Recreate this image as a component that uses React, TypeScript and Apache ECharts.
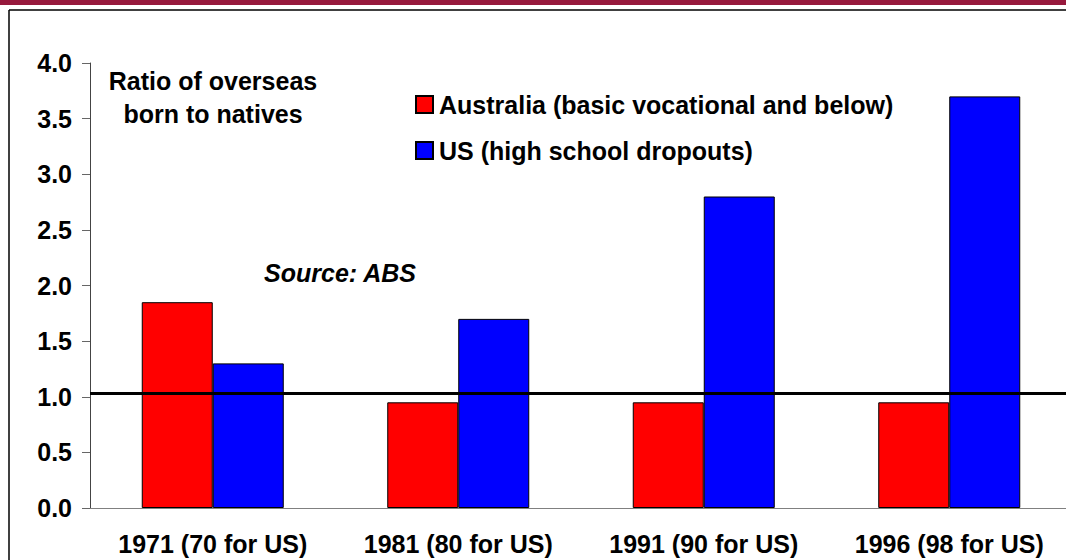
import React, { useEffect, useRef } from "react";
import * as echarts from "echarts";

const categories = ["1971 (70 for US)", "1981 (80 for US)", "1991 (90 for US)", "1996 (98 for US)"];
const australia = [1.85, 0.95, 0.95, 0.95];
const us = [1.3, 1.7, 2.8, 3.7];
const seriesNames = ["Australia (basic vocational and below)", "US (high school dropouts)"];
const referenceLevel = 1.03;

const FONT = "'Liberation Sans', Arial, sans-serif";

export default function App() {
  const ref = useRef<HTMLDivElement>(null);
  useEffect(() => {
    if (!ref.current) return;
    const chart = echarts.init(ref.current, null, { renderer: "svg" });
    chart.setOption({
      animation: false,
      backgroundColor: "#ffffff",
      textStyle: { fontFamily: FONT },
      grid: { left: 90, top: 63, width: 982, height: 445, containLabel: false, outerBoundsMode: "none" },
      legend: {
        orient: "vertical",
        left: 410,
        top: 87,
        itemWidth: 17,
        itemHeight: 17,
        itemGap: 21,
        icon: "rect",
        textStyle: { fontSize: 25, fontWeight: "bold", color: "#000", fontFamily: FONT, padding: [0, 0, 0, 1] },
        data: seriesNames,
      },
      xAxis: {
        type: "category",
        data: categories,
        axisLine: { lineStyle: { color: "#808080", width: 1 } },
        axisTick: { show: false },
        axisLabel: {
          fontSize: 25,
          fontWeight: "bold",
          color: "#000",
          margin: 23,
          fontFamily: FONT,
          interval: 0,
          hideOverlap: false,
        },
      },
      yAxis: {
        type: "value",
        min: 0,
        max: 4,
        interval: 0.5,
        splitLine: { show: false },
        axisLine: { show: true, lineStyle: { color: "#444", width: 1 } },
        axisTick: { show: true, length: 8, lineStyle: { color: "#666" } },
        axisLabel: {
          fontSize: 25,
          fontWeight: "bold",
          color: "#000",
          margin: 18,
          fontFamily: FONT,
          formatter: (v: number) => v.toFixed(1),
        },
      },
      series: [
        {
          name: seriesNames[0],
          type: "bar",
          data: australia,
          barWidth: 71,
          barGap: "0%",
          itemStyle: { color: "#ff0000", borderColor: "#000", borderWidth: 1 },
        },
        {
          name: seriesNames[1],
          type: "bar",
          data: us,
          barWidth: 71,
          barGap: "0%",
          itemStyle: { color: "#0000ff", borderColor: "#000", borderWidth: 1 },
          markLine: {
            silent: true,
            symbol: "none",
            label: { show: false },
            lineStyle: { color: "#000", width: 3, type: "solid" },
            z: 10,
            data: [{ yAxis: referenceLevel }],
          },
        },
      ],
      graphic: [
        { type: "rect", left: 0, top: 0, shape: { width: 1066, height: 5 }, style: { fill: "#97193d" }, silent: true },
        { type: "line", shape: { x1: 9, y1: 10, x2: 1066, y2: 10 }, style: { stroke: "#000", lineWidth: 1.5 }, silent: true },
        { type: "line", shape: { x1: 9, y1: 10, x2: 9, y2: 560 }, style: { stroke: "#000", lineWidth: 1.5 }, silent: true },
        {
          type: "text",
          x: 213,
          y: 97,
          style: {
            text: "Ratio of overseas\nborn to natives",
            font: `bold 25px ${FONT}`,
            fill: "#000",
            textAlign: "center",
            textVerticalAlign: "middle",
            lineHeight: 33,
          },
        },
        {
          type: "text",
          x: 340,
          y: 273,
          style: {
            text: "Source: ABS",
            font: `italic bold 25px ${FONT}`,
            fill: "#000",
            textAlign: "center",
            textVerticalAlign: "middle",
          },
        },
      ],
    });
    return () => chart.dispose();
  }, []);
  return <div ref={ref} style={{ position: "absolute", left: 0, top: 0, width: 1066, height: 560 }} />;
}
